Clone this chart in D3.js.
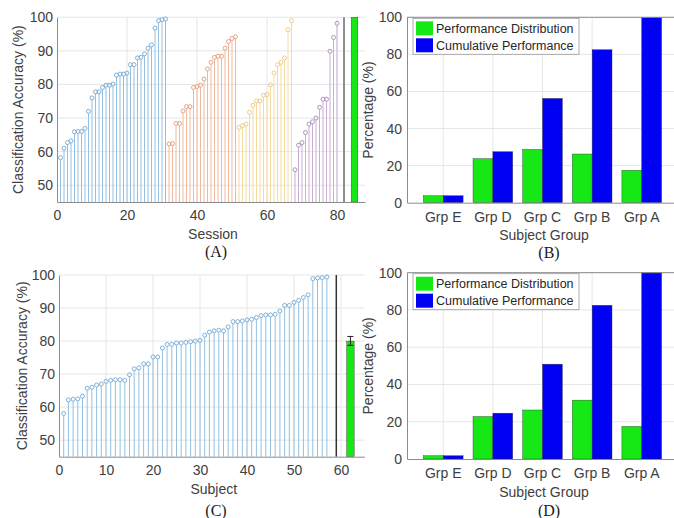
<html>
<head>
<script src="https://d3js.org/d3.v7.min.js"></script>
<style>
    body {
        margin: 0;
        background-color: #fff;
    }
    text {
        font-family: 'Liberation Sans', Arial, sans-serif;
    }
</style>
</head>
<body>
    <svg width="674" height="518"></svg>
    <script type="text/javascript">
    // (A) accuracy per session, one array per subject group (sorted within group)
    var sessBlue = [58.2, 61, 62.7, 63.2, 65.9, 66, 66, 66.9, 72, 76, 77.8, 77.8, 79.1, 79.8, 79.8, 80.1,
                    82.8, 83.1, 83.1, 83.4, 85.9, 85.9, 87.9, 88.1, 89.1, 90.8, 91.8, 96.8, 99, 99.3, 99.5];
    var sessOrange = [62.3, 62.4, 68.4, 68.4, 72.1, 73.4, 73.4, 79.1, 79.4, 79.8, 81.6, 84.6, 86.6, 88.1,
                      88.4, 88.4, 90.8, 92.8, 93.7, 94.2];
    var sessYellow = [67.2, 67.7, 68.2, 71.7, 73.8, 75.1, 75.1, 76.8, 77, 79.9, 83.4, 85.9, 86.6, 87.9, 96.3, 99];
    var sessPurple = [54.6, 61.9, 62.7, 65.7, 68.2, 68.9, 70, 73.2, 75.6, 75.6, 89.9, 94, 98.2];
    var meanA = 100;

    // (C) accuracy per subject, sorted
    var subjAcc = [58.1, 62.2, 62.4, 62.5, 63.3, 65.7, 66.0, 66.7, 67.0, 67.8, 68.1, 68.3, 68.3, 68.1, 69.8,
                   71.6, 71.9, 73.1, 73.1, 75.2, 75.2, 77.9, 79.0, 79.0, 79.4, 79.4, 79.6, 79.8, 80.0, 80.2,
                   81.8, 82.7, 83.1, 83.3, 83.1, 84.3, 85.9, 85.9, 86.1, 86.4, 86.6, 87.1, 87.7, 87.9, 87.9,
                   88.1, 89.1, 90.8, 90.8, 91.7, 92.3, 93.2, 94.0, 98.9, 99.1, 99.2, 99.4];
    var meanC = 80, errC = [78.7, 81.4];

    // (B) and (D) group percentages
    var groups = ["Grp E", "Grp D", "Grp C", "Grp B", "Grp A"];
    var distB = [3.75, 23.75, 28.75, 26.25, 17.5];
    var cumB = [3.75, 27.5, 56.25, 82.5, 100];
    var distD = [1.75, 22.8, 26.3, 31.6, 17.5];
    var cumD = [1.75, 24.6, 50.9, 82.5, 100];

    var svg = d3.select("svg");
    var gridCol = "#e6e6e6", axisCol = "#8c8c8c", txtCol = "#404040";
    var green = "#16e816", blue = "#0000f2";

    function styleAxis(g) {
        g.select(".domain").attr("stroke", axisCol);
        g.selectAll(".tick line").remove();
        g.selectAll(".tick text").attr("fill", txtCol).style("font-size", "14px");
    }

    function grid(g, x, y, xTicks, yTicks) {
        g.selectAll(".vg").data(xTicks).enter().append("line")
            .attr("x1", function(d) { return x(d); }).attr("x2", function(d) { return x(d); })
            .attr("y1", y.range()[0]).attr("y2", y.range()[1])
            .attr("stroke", gridCol);
        g.selectAll(".hg").data(yTicks).enter().append("line")
            .attr("y1", function(d) { return y(d); }).attr("y2", function(d) { return y(d); })
            .attr("x1", x.range()[0]).attr("x2", x.range()[1])
            .attr("stroke", gridCol);
    }

    function stemPanel(p) {
        var x = d3.scaleLinear().domain([0, p.xmax]).range([p.left, p.right]);
        var y = d3.scaleLinear().domain([45, 100]).range([p.bottom, p.top]);
        var g = svg.append("g");
        grid(g, x, y, p.xTicks.filter(function(d) { return d > 0; }), [50, 60, 70, 80, 90, 100]);

        var idx = 1;
        p.series.forEach(function(s) {
            var pts = s.values.map(function(v) { return {i: idx++, v: v}; });
            var sg = g.append("g");
            sg.selectAll("line").data(pts).enter().append("line")
                .attr("x1", function(d) { return x(d.i); }).attr("x2", function(d) { return x(d.i); })
                .attr("y1", y(45)).attr("y2", function(d) { return y(d.v) + 2; })
                .attr("stroke", s.color).attr("stroke-width", 1);
            sg.selectAll("circle").data(pts).enter().append("circle")
                .attr("cx", function(d) { return x(d.i); })
                .attr("cy", function(d) { return y(d.v); })
                .attr("r", 2).attr("fill", "none")
                .attr("stroke", s.mark).attr("stroke-width", 0.9);
        });

        // separator and mean bar
        var n = idx - 1;
        g.append("line")
            .attr("x1", x(n + 2)).attr("x2", x(n + 2))
            .attr("y1", y(45)).attr("y2", y(100))
            .attr("stroke", p.sepCol).attr("stroke-width", 1.5);
        g.append("rect")
            .attr("x", x(n + 5 - p.barW / 2)).attr("width", x(p.barW) - x(0))
            .attr("y", y(p.mean)).attr("height", y(45) - y(p.mean))
            .attr("fill", green).attr("stroke", "#333").attr("stroke-width", 0.4);
        if (p.err) {
            var ex = x(n + 5);
            var eg = g.append("g").attr("stroke", "#222").attr("stroke-width", 1);
            eg.append("line").attr("x1", ex).attr("x2", ex).attr("y1", y(p.err[0])).attr("y2", y(p.err[1]));
            eg.append("line").attr("x1", ex - 3).attr("x2", ex + 3).attr("y1", y(p.err[0])).attr("y2", y(p.err[0]));
            eg.append("line").attr("x1", ex - 3).attr("x2", ex + 3).attr("y1", y(p.err[1])).attr("y2", y(p.err[1]));
        }

        g.append("g").attr("transform", "translate(0," + p.bottom + ")")
            .call(d3.axisBottom(x).tickValues(p.xTicks).tickSize(0).tickPadding(8).tickSizeOuter(0))
            .call(styleAxis);
        g.append("g").attr("transform", "translate(" + p.left + ",0)")
            .call(d3.axisLeft(y).tickValues([50, 60, 70, 80, 90, 100]).tickSize(0).tickPadding(4).tickSizeOuter(0))
            .call(styleAxis);

        g.append("text").attr("x", (p.left + p.right) / 2 + 2).attr("y", p.bottom + 37)
            .attr("text-anchor", "middle").attr("fill", txtCol).style("font-size", "14px").text(p.xLabel);
        g.append("text").attr("transform", "translate(" + p.yLabelX + "," + (p.top + p.bottom) / 2 + ") rotate(-90)")
            .attr("text-anchor", "middle").attr("fill", txtCol).style("font-size", "14px")
            .text("Classification Accuracy (%)");
    }

    function barPanel(p) {
        var x0 = d3.scaleBand().domain(groups).range([p.left, p.right]).paddingInner(0.2).paddingOuter(0.33);
        var x1 = d3.scaleBand().domain(["dist", "cum"]).range([0, x0.bandwidth()]);
        var y = d3.scaleLinear().domain([0, 100]).range([p.bottom, p.top]);
        var g = svg.append("g");
        var xl = d3.scaleLinear().range([p.left, p.right]);
        grid(g, xl, y, [], [20, 40, 60, 80, 100]);
        g.selectAll(".vg2").data(groups).enter().append("line")
            .attr("x1", function(d) { return x0(d) + x0.bandwidth() / 2; })
            .attr("x2", function(d) { return x0(d) + x0.bandwidth() / 2; })
            .attr("y1", p.bottom).attr("y2", p.top).attr("stroke", gridCol);

        var rows = groups.map(function(gr, i) { return {g: gr, dist: p.dist[i], cum: p.cum[i]}; });
        var bg = g.selectAll(".grp").data(rows).enter().append("g")
            .attr("transform", function(d) { return "translate(" + x0(d.g) + ",0)"; });
        bg.append("rect").attr("x", x1("dist")).attr("width", x1.bandwidth())
            .attr("y", function(d) { return y(d.dist); })
            .attr("height", function(d) { return y(0) - y(d.dist); })
            .attr("fill", green).attr("stroke", "#333").attr("stroke-width", 0.4);
        bg.append("rect").attr("x", x1("cum")).attr("width", x1.bandwidth())
            .attr("y", function(d) { return y(d.cum); })
            .attr("height", function(d) { return y(0) - y(d.cum); })
            .attr("fill", blue).attr("stroke", "#333").attr("stroke-width", 0.4);

        g.append("g").attr("transform", "translate(0," + p.bottom + ")")
            .call(d3.axisBottom(x0).tickSize(0).tickPadding(9).tickSizeOuter(0))
            .call(styleAxis);
        g.append("g").attr("transform", "translate(" + p.left + ",0)")
            .call(d3.axisLeft(y).tickValues([0, 20, 40, 60, 80, 100]).tickSize(0).tickPadding(5).tickSizeOuter(0))
            .call(styleAxis);
        g.append("line").attr("x1", p.left).attr("x2", p.right).attr("y1", p.top).attr("y2", p.top)
            .attr("stroke", axisCol);

        // legend
        var lg = g.append("g").attr("transform", "translate(" + (p.left + 6) + "," + (p.top + 1) + ")");
        lg.append("rect").attr("width", 166).attr("height", 36)
            .attr("fill", "#fff").attr("stroke", "#9a9a9a").attr("stroke-width", 0.8);
        [["Performance Distribution", green], ["Cumulative Performance", blue]].forEach(function(it, i) {
            lg.append("rect").attr("x", 3).attr("y", 3 + i * 17).attr("width", 17).attr("height", 14)
                .attr("fill", it[1]);
            lg.append("text").attr("x", 23).attr("y", 14.5 + i * 17)
                .attr("fill", "#262626").style("font-size", "12.5px").text(it[0]);
        });

        g.append("text").attr("x", 544).attr("y", p.bottom + 37.5)
            .attr("text-anchor", "middle").attr("fill", txtCol).style("font-size", "14px").text("Subject Group");
        g.append("text").attr("transform", "translate(373," + (p.top + p.bottom) / 2 + ") rotate(-90)")
            .attr("text-anchor", "middle").attr("fill", txtCol).style("font-size", "14px").text("Percentage (%)");
    }

    stemPanel({
        left: 57, right: 365, top: 17.3, bottom: 202, xmax: 88, xTicks: [0, 20, 40, 60, 80],
        series: [
            {values: sessBlue, color: "#93c0e3", mark: "#72a8d4"},
            {values: sessOrange, color: "#efb9a0", mark: "#e39a78"},
            {values: sessYellow, color: "#f5dba0", mark: "#eec77a"},
            {values: sessPurple, color: "#c7aed2", mark: "#aa88b8"}
        ],
        mean: meanA, barW: 1.9, sepCol: "#6b6b6b", xLabel: "Session", yLabelX: 23
    });
    stemPanel({
        left: 59, right: 364.5, top: 275, bottom: 456.7, xmax: 65, xTicks: [0, 10, 20, 30, 40, 50, 60],
        series: [{values: subjAcc, color: "#93c0e3", mark: "#72a8d4"}],
        mean: meanC, err: errC, barW: 1.6, sepCol: "#333", xLabel: "Subject", yLabelX: 26.5
    });
    barPanel({left: 407, right: 678, top: 17.3, bottom: 202.7, dist: distB, cum: cumB});
    barPanel({left: 407, right: 678, top: 272.7, bottom: 459, dist: distD, cum: cumD});

    var caps = [["(A)", 216, 257], ["(B)", 549, 258], ["(C)", 216, 516], ["(D)", 549, 516]];
    svg.selectAll(".cap").data(caps).enter().append("text")
        .attr("x", function(d) { return d[1]; }).attr("y", function(d) { return d[2]; })
        .attr("text-anchor", "middle").attr("fill", "#1a1a1a")
        .style("font-family", "'Liberation Serif', 'Times New Roman', serif").style("font-size", "16px")
        .text(function(d) { return d[0]; });
    </script>
</body>
</html>
